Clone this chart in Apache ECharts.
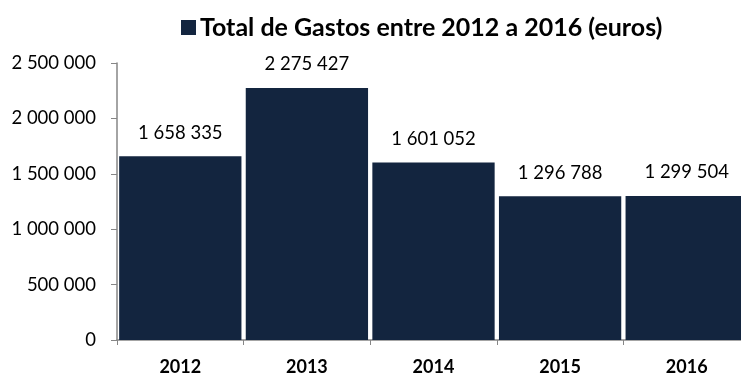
<!DOCTYPE html>
<html><head><meta charset="utf-8">
<script src="https://cdn.jsdelivr.net/npm/echarts@6/dist/echarts.min.js"></script>
<style>html,body{margin:0;padding:0;background:#fff}#c{width:741px;height:374px}</style>
</head><body><div id="c"></div>
<script>
const categories = ['2012','2013','2014','2015','2016'];
const values = [1658335, 2275427, 1601052, 1296788, 1299504];
const seriesName = 'Total de Gastos entre 2012 a 2016 (euros)';
const yMin = 0, yMax = 2500000, yStep = 500000;

function fmt(v){ return String(Math.round(v)).replace(/\B(?=(\d{3})+(?!\d))/g, ' '); }

const chart = echarts.init(document.getElementById('c'), null, {renderer:'canvas'});
chart.setOption({
  animation:false,
  textStyle:{fontFamily:'Lato'},
  legend:{
    top:10, left:176,
    itemWidth:15, itemHeight:15, itemGap:4,
    icon:'rect',
    textStyle:{fontFamily:'Lato', fontWeight:'bold', fontSize:25, color:'#000', padding:[0,0,0,-1]},
    data:[seriesName]
  },
  grid:{left:117, top:63, right:-9, bottom:34, containLabel:false, outerBoundsMode:'none'},
  xAxis:{
    type:'category', data:categories,
    axisLine:{lineStyle:{color:'#868686', width:1.5}},
    axisTick:{show:true, length:5, lineStyle:{color:'#868686'}},
    axisLabel:{color:'#000', fontWeight:'bold', fontSize:18, margin:18, fontFamily:'Lato'}
  },
  yAxis:{
    type:'value', min:yMin, max:yMax, interval:yStep,
    axisLine:{show:true, lineStyle:{color:'#868686', width:1.5}},
    axisTick:{show:true, length:6, lineStyle:{color:'#868686'}},
    splitLine:{show:false},
    axisLabel:{color:'#000', fontSize:18.5, margin:21, fontFamily:'Lato', formatter:fmt}
  },
  series:[{
    name:seriesName, type:'bar', data:values,
    barCategoryGap:'3.4%',
    itemStyle:{color:'#13253f'},
    label:{show:true, position:'top', distance:14, color:'#000', fontSize:18.5, fontFamily:'Lato', formatter:p=>fmt(p.value)}
  }]
});
</script></body></html>
